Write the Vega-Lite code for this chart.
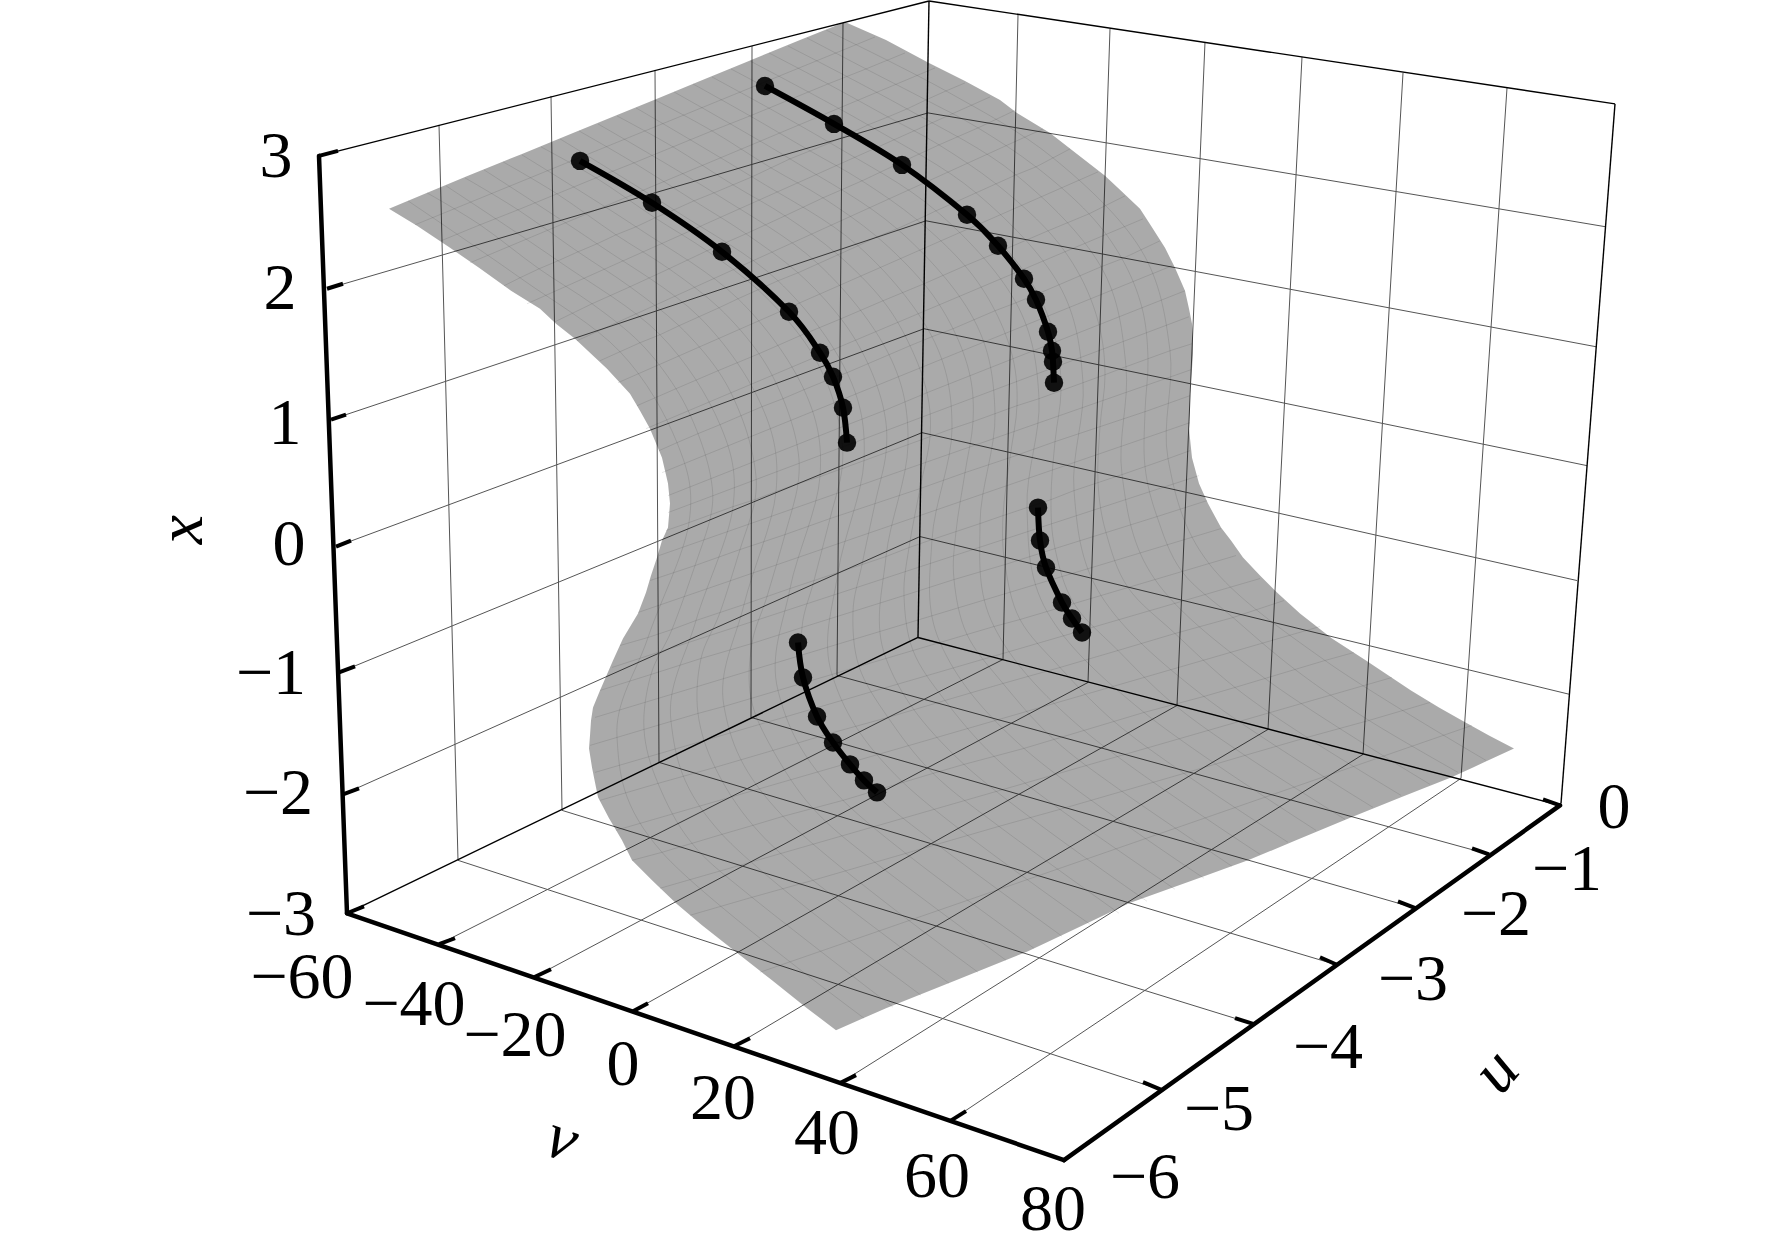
{
  "$schema": "https://vega.github.io/schema/vega-lite/v6.json",
  "width": 1772,
  "height": 1252,
  "padding": 0,
  "autosize": {"type": "fit", "contains": "padding"},
  "background": "white",
  "config": {"view": {"stroke": null}},
  "datasets": {
    "grid": [
      {"sx":327,"sy":288,"ex":928,"ey":112},{"sx":331,"sy":419,"ex":926,"ey":220},{"sx":336,"sy":546,"ex":924,"ey":328},{"sx":339,"sy":672,"ex":922,"ey":432},{"sx":343,"sy":794,"ex":920,"ey":536},
      {"sx":928,"sy":112,"ex":1606,"ey":226},{"sx":926,"sy":220,"ex":1596,"ey":346},{"sx":924,"sy":328,"ex":1587,"ey":465},{"sx":922,"sy":432,"ex":1577,"ey":580},{"sx":920,"sy":536,"ex":1570,"ey":694},
      {"sx":439,"sy":124,"ex":458,"ey":860},{"sx":551,"sy":95,"ex":562,"ey":810},{"sx":655,"sy":69,"ex":659,"ey":762},{"sx":752,"sy":45,"ex":751,"ey":717},{"sx":843,"sy":22,"ex":837,"ey":675},
      {"sx":1018,"sy":14,"ex":1003,"ey":659},{"sx":1110,"sy":28,"ex":1088,"ey":682},{"sx":1205,"sy":41,"ex":1177,"ey":705},{"sx":1302,"sy":56,"ex":1268,"ey":729},{"sx":1403,"sy":72,"ex":1363,"ey":754},{"sx":1507,"sy":87,"ex":1461,"ey":778},
      {"sx":439,"sy":944,"ex":1003,"ey":659},{"sx":534,"sy":977,"ex":1088,"ey":682},{"sx":633,"sy":1011,"ex":1177,"ey":705},{"sx":734,"sy":1046,"ex":1268,"ey":729},{"sx":840,"sy":1083,"ex":1363,"ey":754},{"sx":950,"sy":1121,"ex":1461,"ey":778},
      {"sx":1489,"sy":854,"ex":837,"ey":675},{"sx":1416,"sy":908,"ex":751,"ey":717},{"sx":1338,"sy":965,"ex":659,"ey":762},{"sx":1254,"sy":1024,"ex":562,"ey":810},{"sx":1162,"sy":1090,"ex":458,"ey":860}
    ],
    "frame": [
      {"sx":319,"sy":155,"ex":929,"ey":0},{"sx":929,"sy":0,"ex":1615,"ey":103},{"sx":1615,"sy":103,"ex":1561,"ey":803},{"sx":929,"sy":0,"ex":918,"ey":637},{"sx":347,"sy":913,"ex":918,"ey":637},{"sx":918,"sy":637,"ex":1560,"ey":805}
    ],
    "axes": [
      {"sx":319,"sy":155,"ex":347,"ey":913},{"sx":347,"sy":913,"ex":1064,"ey":1160},{"sx":1064,"sy":1160,"ex":1560,"ey":805}
    ],
    "ticks": [
      {"sx":319,"sy":155,"ex":338,"ey":150},{"sx":327,"sy":288,"ex":343,"ey":283},{"sx":331,"sy":419,"ex":346,"ey":414},{"sx":336,"sy":546,"ex":351,"ey":540},{"sx":339,"sy":672,"ex":355,"ey":666},{"sx":343,"sy":794,"ex":359,"ey":788},{"sx":347,"sy":913,"ex":364,"ey":906},
      {"sx":439,"sy":944,"ex":455,"ey":938},{"sx":534,"sy":977,"ex":551,"ey":969},{"sx":633,"sy":1011,"ex":648,"ey":1003},{"sx":734,"sy":1046,"ex":750,"ey":1038},{"sx":840,"sy":1083,"ex":856,"ey":1075},{"sx":950,"sy":1121,"ex":966,"ey":1111},
      {"sx":1489,"sy":854,"ex":1472,"ey":848},{"sx":1416,"sy":908,"ex":1398,"ey":901},{"sx":1338,"sy":965,"ex":1320,"ey":957},{"sx":1254,"sy":1024,"ex":1235,"ey":1018},{"sx":1162,"sy":1090,"ex":1143,"ey":1082},{"sx":1560,"sy":805,"ex":1543,"ey":799}
    ],
    "surface": [
      {"sy":21,"xl":845,"xr":845},{"sy":39,"xl":800,"xr":886},{"sy":62,"xl":744,"xr":929},{"sy":80,"xl":700,"xr":965},{"sy":99,"xl":654,"xr":1000},{"sy":112,"xl":622,"xr":1017},{"sy":132,"xl":573,"xr":1050},{"sy":153,"xl":522,"xr":1077},{"sy":175,"xl":468,"xr":1105},{"sy":190,"xl":432,"xr":1121},{"sy":208,"xl":389,"xr":1140},
      {"sy":225,"xl":417,"xr":1151},{"sy":247,"xl":450,"xr":1165},{"sy":267,"xl":479,"xr":1175},{"sy":290,"xl":511,"xr":1185},{"sy":308,"xl":540,"xr":1189},{"sy":323,"xl":556,"xr":1192},{"sy":338,"xl":575,"xr":1193},{"sy":353,"xl":591,"xr":1193},{"sy":368,"xl":607,"xr":1192},{"sy":393,"xl":630,"xr":1190},
      {"sy":410,"xl":640,"xr":1190},{"sy":428,"xl":650,"xr":1189},{"sy":457,"xl":662,"xr":1192},{"sy":483,"xl":668,"xr":1199},{"sy":503,"xl":670,"xr":1208},{"sy":527,"xl":668,"xr":1221},{"sy":540,"xl":662,"xr":1231},{"sy":557,"xl":657,"xr":1243},{"sy":575,"xl":651,"xr":1260},{"sy":592,"xl":646,"xr":1277},{"sy":613,"xl":638,"xr":1300},
      {"sy":638,"xl":623,"xr":1332},{"sy":660,"xl":613,"xr":1366},{"sy":690,"xl":600,"xr":1411},{"sy":707,"xl":593,"xr":1439},{"sy":720,"xl":591,"xr":1462},{"sy":735,"xl":590,"xr":1489},{"sy":748,"xl":589,"xr":1514},{"sy":767,"xl":592,"xr":1473},{"sy":777,"xl":594,"xr":1451},{"sy":797,"xl":598,"xr":1401},{"sy":818,"xl":609,"xr":1349},
      {"sy":840,"xl":622,"xr":1296},{"sy":860,"xl":632,"xr":1248},{"sy":880,"xl":652,"xr":1193},{"sy":903,"xl":676,"xr":1129},{"sy":925,"xl":702,"xr":1083},{"sy":951,"xl":735,"xr":1028},{"sy":980,"xl":772,"xr":956},{"sy":1008,"xl":807,"xr":886},{"sy":1030,"xl":836,"xr":836}
    ],
    "mesh": [
      {"t":0,"k":0,"sx":389,"sy":208},{"t":0,"k":1,"sx":427,"sy":192},{"t":0,"k":2,"sx":465,"sy":177},{"t":0,"k":3,"sx":503,"sy":161},{"t":0,"k":4,"sx":541,"sy":146},{"t":0,"k":5,"sx":579,"sy":130},{"t":0,"k":6,"sx":617,"sy":115},{"t":0,"k":7,"sx":655,"sy":99},{"t":0,"k":8,"sx":693,"sy":83},{"t":0,"k":9,"sx":731,"sy":68},{"t":0,"k":10,"sx":769,"sy":52},{"t":0,"k":11,"sx":807,"sy":37},{"t":0,"k":12,"sx":845,"sy":21},
      {"t":1,"k":0,"sx":441,"sy":240},{"t":1,"k":1,"sx":480,"sy":224},{"t":1,"k":2,"sx":518,"sy":209},{"t":1,"k":3,"sx":557,"sy":193},{"t":1,"k":4,"sx":596,"sy":177},{"t":1,"k":5,"sx":634,"sy":162},{"t":1,"k":6,"sx":673,"sy":146},{"t":1,"k":7,"sx":712,"sy":130},{"t":1,"k":8,"sx":750,"sy":115},{"t":1,"k":9,"sx":789,"sy":99},{"t":1,"k":10,"sx":828,"sy":83},{"t":1,"k":11,"sx":866,"sy":68},{"t":1,"k":12,"sx":905,"sy":52},
      {"t":2,"k":0,"sx":504,"sy":285},{"t":2,"k":1,"sx":539,"sy":268},{"t":2,"k":2,"sx":578,"sy":251},{"t":2,"k":3,"sx":616,"sy":234},{"t":2,"k":4,"sx":655,"sy":217},{"t":2,"k":5,"sx":694,"sy":200},{"t":2,"k":6,"sx":733,"sy":184},{"t":2,"k":7,"sx":771,"sy":167},{"t":2,"k":8,"sx":810,"sy":150},{"t":2,"k":9,"sx":849,"sy":133},{"t":2,"k":10,"sx":888,"sy":116},{"t":2,"k":11,"sx":926,"sy":99},{"t":2,"k":12,"sx":965,"sy":82},
      {"t":3,"k":0,"sx":555,"sy":321},{"t":3,"k":1,"sx":592,"sy":303},{"t":3,"k":2,"sx":630,"sy":286},{"t":3,"k":3,"sx":669,"sy":268},{"t":3,"k":4,"sx":707,"sy":250},{"t":3,"k":5,"sx":746,"sy":233},{"t":3,"k":6,"sx":785,"sy":215},{"t":3,"k":7,"sx":823,"sy":197},{"t":3,"k":8,"sx":862,"sy":180},{"t":3,"k":9,"sx":900,"sy":162},{"t":3,"k":10,"sx":939,"sy":144},{"t":3,"k":11,"sx":978,"sy":127},{"t":3,"k":12,"sx":1016,"sy":109},
      {"t":4,"k":0,"sx":600,"sy":360},{"t":4,"k":1,"sx":640,"sy":342},{"t":4,"k":2,"sx":679,"sy":325},{"t":4,"k":3,"sx":719,"sy":307},{"t":4,"k":4,"sx":758,"sy":289},{"t":4,"k":5,"sx":798,"sy":272},{"t":4,"k":6,"sx":838,"sy":254},{"t":4,"k":7,"sx":877,"sy":236},{"t":4,"k":8,"sx":917,"sy":219},{"t":4,"k":9,"sx":956,"sy":201},{"t":4,"k":10,"sx":996,"sy":183},{"t":4,"k":11,"sx":1036,"sy":166},{"t":4,"k":12,"sx":1070,"sy":148},
      {"t":5,"k":0,"sx":637,"sy":405},{"t":5,"k":1,"sx":676,"sy":388},{"t":5,"k":2,"sx":718,"sy":370},{"t":5,"k":3,"sx":759,"sy":353},{"t":5,"k":4,"sx":800,"sy":335},{"t":5,"k":5,"sx":841,"sy":318},{"t":5,"k":6,"sx":883,"sy":300},{"t":5,"k":7,"sx":924,"sy":283},{"t":5,"k":8,"sx":965,"sy":265},{"t":5,"k":9,"sx":1006,"sy":248},{"t":5,"k":10,"sx":1048,"sy":230},{"t":5,"k":11,"sx":1089,"sy":213},{"t":5,"k":12,"sx":1125,"sy":195},
      {"t":6,"k":0,"sx":659,"sy":450},{"t":6,"k":1,"sx":698,"sy":433},{"t":6,"k":2,"sx":741,"sy":415},{"t":6,"k":3,"sx":783,"sy":398},{"t":6,"k":4,"sx":826,"sy":380},{"t":6,"k":5,"sx":868,"sy":363},{"t":6,"k":6,"sx":910,"sy":345},{"t":6,"k":7,"sx":953,"sy":328},{"t":6,"k":8,"sx":995,"sy":310},{"t":6,"k":9,"sx":1038,"sy":293},{"t":6,"k":10,"sx":1080,"sy":275},{"t":6,"k":11,"sx":1122,"sy":258},{"t":6,"k":12,"sx":1160,"sy":240},
      {"t":7,"k":0,"sx":668,"sy":495},{"t":7,"k":1,"sx":711,"sy":478},{"t":7,"k":2,"sx":754,"sy":461},{"t":7,"k":3,"sx":797,"sy":444},{"t":7,"k":4,"sx":840,"sy":427},{"t":7,"k":5,"sx":884,"sy":410},{"t":7,"k":6,"sx":927,"sy":392},{"t":7,"k":7,"sx":970,"sy":375},{"t":7,"k":8,"sx":1013,"sy":358},{"t":7,"k":9,"sx":1056,"sy":341},{"t":7,"k":10,"sx":1099,"sy":324},{"t":7,"k":11,"sx":1142,"sy":307},{"t":7,"k":12,"sx":1185,"sy":290},
      {"t":8,"k":0,"sx":666,"sy":530},{"t":8,"k":1,"sx":711,"sy":514},{"t":8,"k":2,"sx":755,"sy":499},{"t":8,"k":3,"sx":798,"sy":483},{"t":8,"k":4,"sx":842,"sy":468},{"t":8,"k":5,"sx":886,"sy":452},{"t":8,"k":6,"sx":930,"sy":436},{"t":8,"k":7,"sx":973,"sy":421},{"t":8,"k":8,"sx":1017,"sy":405},{"t":8,"k":9,"sx":1061,"sy":390},{"t":8,"k":10,"sx":1105,"sy":374},{"t":8,"k":11,"sx":1148,"sy":358},{"t":8,"k":12,"sx":1192,"sy":343},
      {"t":9,"k":0,"sx":650,"sy":580},{"t":9,"k":1,"sx":695,"sy":565},{"t":9,"k":2,"sx":740,"sy":549},{"t":9,"k":3,"sx":785,"sy":534},{"t":9,"k":4,"sx":830,"sy":518},{"t":9,"k":5,"sx":875,"sy":503},{"t":9,"k":6,"sx":920,"sy":488},{"t":9,"k":7,"sx":965,"sy":472},{"t":9,"k":8,"sx":1010,"sy":457},{"t":9,"k":9,"sx":1055,"sy":441},{"t":9,"k":10,"sx":1100,"sy":426},{"t":9,"k":11,"sx":1145,"sy":411},{"t":9,"k":12,"sx":1190,"sy":395},
      {"t":10,"k":0,"sx":620,"sy":645},{"t":10,"k":1,"sx":672,"sy":629},{"t":10,"k":2,"sx":720,"sy":612},{"t":10,"k":3,"sx":767,"sy":596},{"t":10,"k":4,"sx":814,"sy":580},{"t":10,"k":5,"sx":862,"sy":564},{"t":10,"k":6,"sx":909,"sy":547},{"t":10,"k":7,"sx":956,"sy":531},{"t":10,"k":8,"sx":1003,"sy":515},{"t":10,"k":9,"sx":1051,"sy":499},{"t":10,"k":10,"sx":1098,"sy":482},{"t":10,"k":11,"sx":1145,"sy":466},{"t":10,"k":12,"sx":1190,"sy":450},
      {"t":11,"k":0,"sx":600,"sy":690},{"t":11,"k":1,"sx":651,"sy":674},{"t":11,"k":2,"sx":701,"sy":658},{"t":11,"k":3,"sx":752,"sy":643},{"t":11,"k":4,"sx":802,"sy":627},{"t":11,"k":5,"sx":853,"sy":611},{"t":11,"k":6,"sx":904,"sy":595},{"t":11,"k":7,"sx":954,"sy":579},{"t":11,"k":8,"sx":1005,"sy":564},{"t":11,"k":9,"sx":1055,"sy":548},{"t":11,"k":10,"sx":1106,"sy":532},{"t":11,"k":11,"sx":1157,"sy":516},{"t":11,"k":12,"sx":1207,"sy":500},
      {"t":12,"k":0,"sx":590,"sy":745},{"t":12,"k":1,"sx":644,"sy":729},{"t":12,"k":2,"sx":698,"sy":713},{"t":12,"k":3,"sx":751,"sy":698},{"t":12,"k":4,"sx":805,"sy":682},{"t":12,"k":5,"sx":859,"sy":666},{"t":12,"k":6,"sx":913,"sy":650},{"t":12,"k":7,"sx":967,"sy":634},{"t":12,"k":8,"sx":1020,"sy":619},{"t":12,"k":9,"sx":1074,"sy":603},{"t":12,"k":10,"sx":1128,"sy":587},{"t":12,"k":11,"sx":1182,"sy":571},{"t":12,"k":12,"sx":1236,"sy":555},
      {"t":13,"k":0,"sx":600,"sy":800},{"t":13,"k":1,"sx":658,"sy":783},{"t":13,"k":2,"sx":715,"sy":767},{"t":13,"k":3,"sx":773,"sy":750},{"t":13,"k":4,"sx":830,"sy":733},{"t":13,"k":5,"sx":888,"sy":717},{"t":13,"k":6,"sx":945,"sy":700},{"t":13,"k":7,"sx":1003,"sy":683},{"t":13,"k":8,"sx":1060,"sy":667},{"t":13,"k":9,"sx":1118,"sy":650},{"t":13,"k":10,"sx":1175,"sy":633},{"t":13,"k":11,"sx":1233,"sy":617},{"t":13,"k":12,"sx":1284,"sy":600},
      {"t":14,"k":0,"sx":632,"sy":860},{"t":14,"k":1,"sx":692,"sy":843},{"t":14,"k":2,"sx":753,"sy":825},{"t":14,"k":3,"sx":813,"sy":808},{"t":14,"k":4,"sx":873,"sy":791},{"t":14,"k":5,"sx":933,"sy":773},{"t":14,"k":6,"sx":994,"sy":756},{"t":14,"k":7,"sx":1054,"sy":739},{"t":14,"k":8,"sx":1114,"sy":721},{"t":14,"k":9,"sx":1174,"sy":704},{"t":14,"k":10,"sx":1235,"sy":687},{"t":14,"k":11,"sx":1295,"sy":669},{"t":14,"k":12,"sx":1354,"sy":652},
      {"t":15,"k":0,"sx":690,"sy":915},{"t":15,"k":1,"sx":752,"sy":897},{"t":15,"k":2,"sx":813,"sy":880},{"t":15,"k":3,"sx":875,"sy":862},{"t":15,"k":4,"sx":937,"sy":844},{"t":15,"k":5,"sx":999,"sy":826},{"t":15,"k":6,"sx":1060,"sy":809},{"t":15,"k":7,"sx":1122,"sy":791},{"t":15,"k":8,"sx":1184,"sy":773},{"t":15,"k":9,"sx":1245,"sy":755},{"t":15,"k":10,"sx":1307,"sy":737},{"t":15,"k":11,"sx":1369,"sy":720},{"t":15,"k":12,"sx":1430,"sy":702},
      {"t":16,"k":0,"sx":836,"sy":1030},{"t":16,"k":1,"sx":893,"sy":1007},{"t":16,"k":2,"sx":949,"sy":983},{"t":16,"k":3,"sx":1006,"sy":960},{"t":16,"k":4,"sx":1062,"sy":936},{"t":16,"k":5,"sx":1119,"sy":913},{"t":16,"k":6,"sx":1175,"sy":889},{"t":16,"k":7,"sx":1232,"sy":866},{"t":16,"k":8,"sx":1288,"sy":842},{"t":16,"k":9,"sx":1345,"sy":819},{"t":16,"k":10,"sx":1401,"sy":795},{"t":16,"k":11,"sx":1458,"sy":772},{"t":16,"k":12,"sx":1514,"sy":748},
      {"t":0,"k":0.5,"sx":408,"sy":200},{"t":0,"k":1.5,"sx":446,"sy":185},{"t":0,"k":2.5,"sx":484,"sy":169},{"t":0,"k":3.5,"sx":522,"sy":154},{"t":0,"k":4.5,"sx":560,"sy":138},{"t":0,"k":5.5,"sx":598,"sy":123},{"t":0,"k":6.5,"sx":636,"sy":107},{"t":0,"k":7.5,"sx":674,"sy":91},{"t":0,"k":8.5,"sx":712,"sy":76},{"t":0,"k":9.5,"sx":750,"sy":60},{"t":0,"k":10.5,"sx":788,"sy":45},{"t":0,"k":11.5,"sx":826,"sy":29},
      {"t":2,"k":0.5,"sx":520,"sy":277},{"t":2,"k":1.5,"sx":558,"sy":260},{"t":2,"k":2.5,"sx":597,"sy":243},{"t":2,"k":3.5,"sx":636,"sy":226},{"t":2,"k":4.5,"sx":674,"sy":209},{"t":2,"k":5.5,"sx":714,"sy":192},{"t":2,"k":6.5,"sx":752,"sy":176},{"t":2,"k":7.5,"sx":790,"sy":158},{"t":2,"k":8.5,"sx":830,"sy":142},{"t":2,"k":9.5,"sx":868,"sy":124},{"t":2,"k":10.5,"sx":907,"sy":108},{"t":2,"k":11.5,"sx":946,"sy":90},
      {"t":4,"k":0.5,"sx":620,"sy":351},{"t":4,"k":1.5,"sx":660,"sy":334},{"t":4,"k":2.5,"sx":699,"sy":316},{"t":4,"k":3.5,"sx":738,"sy":298},{"t":4,"k":4.5,"sx":778,"sy":280},{"t":4,"k":5.5,"sx":818,"sy":263},{"t":4,"k":6.5,"sx":858,"sy":245},{"t":4,"k":7.5,"sx":897,"sy":228},{"t":4,"k":8.5,"sx":936,"sy":210},{"t":4,"k":9.5,"sx":976,"sy":192},{"t":4,"k":10.5,"sx":1016,"sy":174},{"t":4,"k":11.5,"sx":1053,"sy":157},
      {"t":6,"k":0.5,"sx":677,"sy":442},{"t":6,"k":1.5,"sx":720,"sy":424},{"t":6,"k":2.5,"sx":762,"sy":406},{"t":6,"k":3.5,"sx":804,"sy":389},{"t":6,"k":4.5,"sx":847,"sy":372},{"t":6,"k":5.5,"sx":889,"sy":354},{"t":6,"k":6.5,"sx":932,"sy":336},{"t":6,"k":7.5,"sx":974,"sy":319},{"t":6,"k":8.5,"sx":1016,"sy":302},{"t":6,"k":9.5,"sx":1059,"sy":284},{"t":6,"k":10.5,"sx":1101,"sy":266},{"t":6,"k":11.5,"sx":1141,"sy":249},
      {"t":8,"k":0.5,"sx":689,"sy":522},{"t":8,"k":1.5,"sx":733,"sy":506},{"t":8,"k":2.5,"sx":776,"sy":491},{"t":8,"k":3.5,"sx":820,"sy":476},{"t":8,"k":4.5,"sx":864,"sy":460},{"t":8,"k":5.5,"sx":908,"sy":444},{"t":8,"k":6.5,"sx":952,"sy":428},{"t":8,"k":7.5,"sx":995,"sy":413},{"t":8,"k":8.5,"sx":1039,"sy":398},{"t":8,"k":9.5,"sx":1083,"sy":382},{"t":8,"k":10.5,"sx":1126,"sy":366},{"t":8,"k":11.5,"sx":1170,"sy":350},
      {"t":10,"k":0.5,"sx":648,"sy":637},{"t":10,"k":1.5,"sx":696,"sy":620},{"t":10,"k":2.5,"sx":744,"sy":604},{"t":10,"k":3.5,"sx":790,"sy":588},{"t":10,"k":4.5,"sx":838,"sy":572},{"t":10,"k":5.5,"sx":886,"sy":556},{"t":10,"k":6.5,"sx":932,"sy":539},{"t":10,"k":7.5,"sx":980,"sy":523},{"t":10,"k":8.5,"sx":1027,"sy":507},{"t":10,"k":9.5,"sx":1074,"sy":490},{"t":10,"k":10.5,"sx":1122,"sy":474},{"t":10,"k":11.5,"sx":1168,"sy":458},
      {"t":12,"k":0.5,"sx":617,"sy":737},{"t":12,"k":1.5,"sx":671,"sy":721},{"t":12,"k":2.5,"sx":724,"sy":706},{"t":12,"k":3.5,"sx":778,"sy":690},{"t":12,"k":4.5,"sx":832,"sy":674},{"t":12,"k":5.5,"sx":886,"sy":658},{"t":12,"k":6.5,"sx":940,"sy":642},{"t":12,"k":7.5,"sx":994,"sy":626},{"t":12,"k":8.5,"sx":1047,"sy":611},{"t":12,"k":9.5,"sx":1101,"sy":595},{"t":12,"k":10.5,"sx":1155,"sy":579},{"t":12,"k":11.5,"sx":1209,"sy":563},
      {"t":14,"k":0.5,"sx":662,"sy":852},{"t":14,"k":1.5,"sx":722,"sy":834},{"t":14,"k":2.5,"sx":783,"sy":816},{"t":14,"k":3.5,"sx":843,"sy":800},{"t":14,"k":4.5,"sx":903,"sy":782},{"t":14,"k":5.5,"sx":964,"sy":764},{"t":14,"k":6.5,"sx":1024,"sy":748},{"t":14,"k":7.5,"sx":1084,"sy":730},{"t":14,"k":8.5,"sx":1144,"sy":712},{"t":14,"k":9.5,"sx":1204,"sy":696},{"t":14,"k":10.5,"sx":1265,"sy":678},{"t":14,"k":11.5,"sx":1325,"sy":660},
      {"t":16,"k":0.5,"sx":864,"sy":1018},{"t":16,"k":1.5,"sx":921,"sy":995},{"t":16,"k":2.5,"sx":978,"sy":972},{"t":16,"k":3.5,"sx":1034,"sy":948},{"t":16,"k":4.5,"sx":1090,"sy":924},{"t":16,"k":5.5,"sx":1147,"sy":901},{"t":16,"k":6.5,"sx":1204,"sy":878},{"t":16,"k":7.5,"sx":1260,"sy":854},{"t":16,"k":8.5,"sx":1316,"sy":830},{"t":16,"k":9.5,"sx":1373,"sy":807},{"t":16,"k":10.5,"sx":1430,"sy":784},{"t":16,"k":11.5,"sx":1486,"sy":760},
      {"t":0.5,"k":0,"sx":415,"sy":224},{"t":0.5,"k":12,"sx":875,"sy":36},{"t":1.5,"k":0,"sx":470,"sy":262},{"t":1.5,"k":12,"sx":935,"sy":67},{"t":2.5,"k":0,"sx":527,"sy":303},{"t":2.5,"k":12,"sx":990,"sy":96},{"t":3.5,"k":0,"sx":577,"sy":340},{"t":3.5,"k":12,"sx":1043,"sy":128},
      {"t":4.5,"k":0,"sx":618,"sy":382},{"t":4.5,"k":12,"sx":1098,"sy":171},{"t":5.5,"k":0,"sx":646,"sy":428},{"t":5.5,"k":12,"sx":1143,"sy":218},{"t":6.5,"k":0,"sx":662,"sy":472},{"t":6.5,"k":12,"sx":1172,"sy":265},{"t":7.5,"k":0,"sx":668,"sy":512},{"t":7.5,"k":12,"sx":1189,"sy":316},
      {"t":8.5,"k":0,"sx":659,"sy":555},{"t":8.5,"k":12,"sx":1191,"sy":369},{"t":9.5,"k":0,"sx":638,"sy":612},{"t":9.5,"k":12,"sx":1190,"sy":422},{"t":10.5,"k":0,"sx":612,"sy":667},{"t":10.5,"k":12,"sx":1199,"sy":475},{"t":11.5,"k":0,"sx":595,"sy":717},{"t":11.5,"k":12,"sx":1221,"sy":528},
      {"t":12.5,"k":0,"sx":595,"sy":772},{"t":12.5,"k":12,"sx":1260,"sy":578},{"t":13.5,"k":0,"sx":616,"sy":830},{"t":13.5,"k":12,"sx":1320,"sy":626},{"t":14.5,"k":0,"sx":660,"sy":888},{"t":14.5,"k":12,"sx":1392,"sy":677},{"t":15.5,"k":0,"sx":760,"sy":972},{"t":15.5,"k":12,"sx":1472,"sy":725}
    ],
    "curves": [
      {"curve":"a","ord":1,"sx":580,"sy":160},{"curve":"a","ord":2,"sx":652,"sy":202},{"curve":"a","ord":3,"sx":722,"sy":251},{"curve":"a","ord":4,"sx":789,"sy":311},{"curve":"a","ord":5,"sx":820,"sy":352},{"curve":"a","ord":6,"sx":833,"sy":376},{"curve":"a","ord":7,"sx":843,"sy":407},{"curve":"a","ord":8,"sx":847,"sy":442},
      {"curve":"b","ord":1,"sx":765,"sy":85},{"curve":"b","ord":2,"sx":834,"sy":123},{"curve":"b","ord":3,"sx":902,"sy":164},{"curve":"b","ord":4,"sx":967,"sy":214},{"curve":"b","ord":5,"sx":998,"sy":245},{"curve":"b","ord":6,"sx":1024,"sy":278},{"curve":"b","ord":7,"sx":1036,"sy":299},{"curve":"b","ord":8,"sx":1048,"sy":331},{"curve":"b","ord":9,"sx":1052,"sy":350},{"curve":"b","ord":10,"sx":1053,"sy":361},{"curve":"b","ord":11,"sx":1054,"sy":382},
      {"curve":"c","ord":1,"sx":1038,"sy":507},{"curve":"c","ord":2,"sx":1040,"sy":540},{"curve":"c","ord":3,"sx":1046,"sy":567},{"curve":"c","ord":4,"sx":1062,"sy":602},{"curve":"c","ord":5,"sx":1072,"sy":618},{"curve":"c","ord":6,"sx":1082,"sy":632},
      {"curve":"d","ord":1,"sx":798,"sy":642},{"curve":"d","ord":2,"sx":803,"sy":677},{"curve":"d","ord":3,"sx":817,"sy":716},{"curve":"d","ord":4,"sx":833,"sy":742},{"curve":"d","ord":5,"sx":850,"sy":764},{"curve":"d","ord":6,"sx":864,"sy":780},{"curve":"d","ord":7,"sx":877,"sy":792}
    ],
    "labels": [
      {"label":"3","sx":276,"sy":156},{"label":"2","sx":280,"sy":288},{"label":"1","sx":285,"sy":423},{"label":"0","sx":289,"sy":544},{"label":"−1","sx":271,"sy":674},{"label":"−2","sx":278,"sy":794},{"label":"−3","sx":281,"sy":915},
      {"label":"−60","sx":302,"sy":978},{"label":"−40","sx":414,"sy":1005},{"label":"−20","sx":515,"sy":1036},{"label":"0","sx":623,"sy":1065},{"label":"20","sx":723,"sy":1099},{"label":"40","sx":827,"sy":1134},{"label":"60","sx":937,"sy":1177},{"label":"80","sx":1053,"sy":1210},
      {"label":"0","sx":1614,"sy":808},{"label":"−1","sx":1567,"sy":870},{"label":"−2","sx":1496,"sy":915},{"label":"−3","sx":1413,"sy":980},{"label":"−4","sx":1328,"sy":1048},{"label":"−5","sx":1219,"sy":1110},{"label":"−6","sx":1145,"sy":1178}
    ]
  },
  "encoding": {
    "x": {"field": "sx", "type": "quantitative", "scale": {"domain": [0, 1772], "nice": false}, "axis": null},
    "y": {"field": "sy", "type": "quantitative", "scale": {"domain": [1252, 0], "nice": false}, "axis": null}
  },
  "layer": [
    {
      "data": {"name": "grid"},
      "mark": {"type": "rule", "stroke": "#555555", "strokeWidth": 1},
      "encoding": {"x2": {"field": "ex"}, "y2": {"field": "ey"}}
    },
    {
      "data": {"name": "frame"},
      "mark": {"type": "rule", "stroke": "#000000", "strokeWidth": 1.4},
      "encoding": {"x2": {"field": "ex"}, "y2": {"field": "ey"}}
    },
    {
      "data": {"name": "surface"},
      "mark": {"type": "area", "orient": "horizontal", "color": "#000000", "opacity": 0.335},
      "encoding": {
        "x": {"field": "xl", "type": "quantitative", "scale": {"domain": [0, 1772], "nice": false}, "axis": null},
        "x2": {"field": "xr"}
      }
    },
    {
      "data": {"name": "mesh"},
      "transform": [{"filter": "datum.k > 0 && datum.k < 12"}],
      "mark": {"type": "line", "interpolate": "cardinal", "stroke": "#000000", "strokeWidth": 0.7, "strokeOpacity": 0.14},
      "encoding": {"detail": {"field": "k"}, "order": {"field": "t"}}
    },
    {
      "data": {"name": "mesh"},
      "transform": [{"filter": "datum.t > 0 && datum.t < 16"}],
      "mark": {"type": "line", "stroke": "#000000", "strokeWidth": 0.7, "strokeOpacity": 0.14},
      "encoding": {"detail": {"field": "t"}, "order": {"field": "k"}}
    },
    {
      "data": {"name": "axes"},
      "mark": {"type": "rule", "stroke": "#000000", "strokeWidth": 4.5, "strokeCap": "round"},
      "encoding": {"x2": {"field": "ex"}, "y2": {"field": "ey"}}
    },
    {
      "data": {"name": "ticks"},
      "mark": {"type": "rule", "stroke": "#000000", "strokeWidth": 4},
      "encoding": {"x2": {"field": "ex"}, "y2": {"field": "ey"}}
    },
    {
      "data": {"name": "curves"},
      "mark": {"type": "line", "interpolate": "cardinal", "stroke": "#000000", "strokeWidth": 6},
      "encoding": {"detail": {"field": "curve"}, "order": {"field": "ord"}}
    },
    {
      "data": {"name": "curves"},
      "mark": {"type": "circle", "size": 340, "fill": "#000000", "opacity": 0.9}
    },
    {
      "data": {"name": "labels"},
      "mark": {"type": "text", "font": "Liberation Serif", "fontSize": 66, "align": "center", "baseline": "middle", "fill": "#000000"},
      "encoding": {"text": {"field": "label"}}
    },
    {
      "data": {"values": [{"label": "x", "sx": 182, "sy": 529}]},
      "mark": {"type": "text", "font": "Liberation Serif", "fontStyle": "italic", "fontSize": 66, "angle": 270, "align": "center", "baseline": "middle", "fill": "#000000"},
      "encoding": {"text": {"field": "label"}}
    },
    {
      "data": {"values": [{"label": "u", "sx": 1496, "sy": 1071}]},
      "mark": {"type": "text", "font": "Liberation Serif", "fontStyle": "italic", "fontSize": 66, "angle": 310, "align": "center", "baseline": "middle", "fill": "#000000"},
      "encoding": {"text": {"field": "label"}}
    },
    {
      "data": {"values": [{"label": "ν", "sx": 562, "sy": 1139}]},
      "mark": {"type": "text", "font": "Liberation Serif", "fontStyle": "italic", "fontSize": 66, "angle": 20, "align": "center", "baseline": "middle", "fill": "#000000"},
      "encoding": {"text": {"field": "label"}}
    }
  ]
}
